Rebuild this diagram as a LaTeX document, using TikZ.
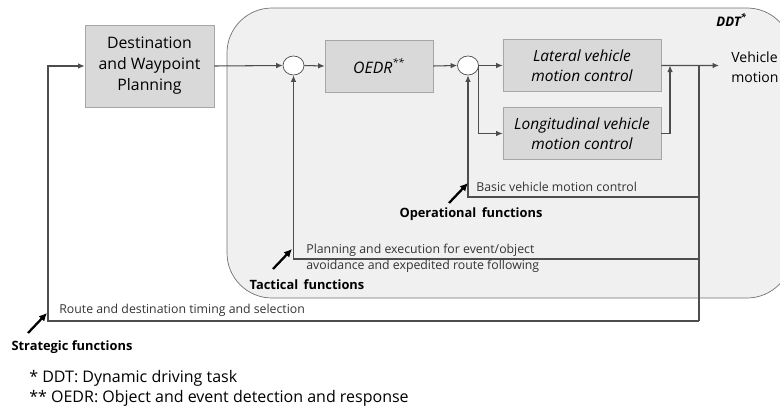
\documentclass[tikz,border=0pt]{standalone}
\usepackage{fontspec}
\setmainfont{Open Sans}
\usepackage{tikz}
\usetikzlibrary{positioning, shapes.geometric, arrows.meta, calc}
\definecolor{ddtfill}{HTML}{F0F0F0}
\definecolor{ddtdraw}{HTML}{737373}
\definecolor{blockfill}{HTML}{D9D9D9}
\definecolor{blockdraw}{HTML}{A6A6A6}
\definecolor{wiregray}{HTML}{4D4D4D}
\tikzset{
	blocknode/.style={
			rectangle,
			draw=blockdraw,
			fill=blockfill,
			align=center,
			inner sep=0pt,
			font=\fontsize{9}{12}\selectfont
		},
	sumnode/.style={
			ellipse,
			draw=wiregray,
			fill=white,
			minimum width=0.42cm,
			minimum height=0.38cm,
			inner sep=0pt
		},
	sigline/.style={
			draw=wiregray,
			line width=0.6pt,
			-{Latex[length=1.3mm,width=1.1mm]}
		},
	plainline/.style={
			draw=wiregray,
			line width=0.6pt
		},
	funcarrow/.style={
			draw=black,
			line width=1.3pt,
			-{Latex[length=1.6mm,width=1.6mm]}
		},
	smalllabel/.style={
			anchor=west,
			align=left,
			inner sep=0pt,
			text=black!80,
			font=\fontsize{7}{9.2}\selectfont
		},
	funclabel/.style={
			inner sep=0pt,
			font=\fontsize{7.3}{9}\selectfont\bfseries
		}
}

\begin{document}
\begin{tikzpicture}[x=0.02cm, y=-0.02cm]
\useasboundingbox (0,0) rectangle (780,406);

% DDT area
\begin{scope}
\clip (0,0) rectangle (780,406);
\draw[draw=ddtdraw, fill=ddtfill, rounded corners=0.9cm] (227,8) rectangle (792,298);
\end{scope}
\node[anchor=west, inner sep=0pt, font=\fontsize{7.5}{9}\selectfont\bfseries\itshape] (tDDT) at (716,20) {DDT\textsuperscript{*}};

% blocks
\node[blocknode, minimum width=2.58cm, minimum height=1.64cm] (tDest) at (149.5,66) {Destination\\and Waypoint\\Planning};
\node[sumnode] (cSum1) at (293.5,65.5) {};
\node[blocknode, minimum width=2.16cm, minimum height=1.04cm, font=\fontsize{9}{12}\selectfont\itshape] (tOEDR) at (379,66) {OEDR\textsuperscript{**}};
\node[sumnode] (cSum2) at (468,65.5) {};
\node[blocknode, minimum width=3.16cm, minimum height=1.04cm, font=\fontsize{8.8}{11.5}\selectfont\itshape] (tLat) at (582,65.5) {Lateral vehicle\\motion control};
\node[blocknode, minimum width=3.16cm, minimum height=1.04cm, font=\fontsize{8.8}{11.5}\selectfont\itshape] (tLong) at (582,133.5) {Longitudinal vehicle\\motion control};
\node[anchor=west, align=left, inner sep=0pt, font=\fontsize{8}{11.5}\selectfont] (tMotion) at (731,67) {Vehicle\\motion};

\coordinate (jMerge) at (670,65.5);
\coordinate (fbTap) at (699,65.5);
\coordinate (fbOp) at (699,197);
\coordinate (fbTac) at (699,259);
\coordinate (fbStr) at (699,321);
\coordinate (strCorner) at (48,66);

% forward path
\draw[sigline] (tDest.east) -- (cSum1.west);
\draw[sigline] (cSum1.east) -- (tOEDR.west);
\draw[sigline] (tOEDR.east) -- (cSum2.west);
\draw[sigline] (cSum2.east) -- (tLat.west);
\draw[sigline] (cSum2.east) |- (tLong.west);
\draw[sigline] (tLong.east) -| (jMerge);
\draw[sigline] (tLat.east) -- ($(tMotion.west)+(-12,-1.5)$);

% feedback loops
\draw[plainline] (fbTap) -- (fbStr);
\draw[sigline] (fbOp) -| (cSum2.south);
\draw[sigline] (fbTac) -| (cSum1.south);
\draw[sigline] (fbStr) -| (strCorner) -- (tDest.west);

% labels
\node[smalllabel] (lOp) at (476,187) {Basic vehicle motion control};
\node[smalllabel] (lTac) at (306,258) {Planning and execution for event/object\\avoidance and expedited route following};
\node[smalllabel] (lStr) at (59,310.5) {Route and destination timing and selection};

\node[funclabel] (fOp) at (471,214) {Operational\, functions};
\node[funclabel] (fTac) at (307,285) {Tactical\, functions};
\node[funclabel] (fStr) at (72,347) {Strategic functions};

\coordinate (aOpTail) at (449,203);
\coordinate (aOpHead) at (468,183);
\coordinate (aTacTail) at (273,269);
\coordinate (aTacHead) at (292,249);
\coordinate (aStrTail) at (28,333);
\coordinate (aStrHead) at (47,313);
\draw[funcarrow] (aOpTail) -- (aOpHead);
\draw[funcarrow] (aTacTail) -- (aTacHead);
\draw[funcarrow] (aStrTail) -- (aStrHead);

% footnotes
\node[anchor=west, align=left, inner sep=0pt, font=\fontsize{9.1}{11.3}\selectfont] (tNotes) at (29,388) {* DDT: Dynamic driving task\\** OEDR: Object and event detection and response};

\end{tikzpicture}
\end{document}
